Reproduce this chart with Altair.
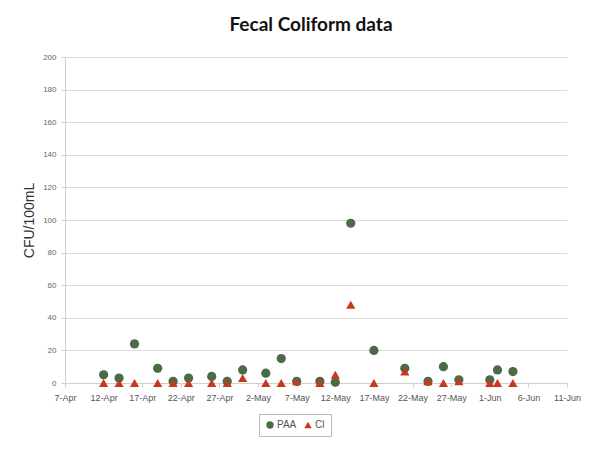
import altair as alt
import pandas as pd

dates = ["2013-04-12", "2013-04-14", "2013-04-16", "2013-04-19", "2013-04-21",
         "2013-04-23", "2013-04-26", "2013-04-28", "2013-04-30", "2013-05-03",
         "2013-05-05", "2013-05-07", "2013-05-10", "2013-05-12", "2013-05-14",
         "2013-05-17", "2013-05-21", "2013-05-24", "2013-05-26", "2013-05-28",
         "2013-06-01", "2013-06-02", "2013-06-04"]
paa = [5, 3, 24, 9, 1, 3, 4, 1, 8, 6, 15, 1, 1, 0.5, 98, 20, 9, 1, 10, 2, 2, 8, 7]
cl = [0, 0, 0, 0, 0, 0, 0, 0, 3, 0, 0, 1, 0, 5, 48, 0, 7, 1, 0, 1, 0, 0, 0]
series = ["PAA", "Cl"]
tick_dates = ["2013-04-07", "2013-04-12", "2013-04-17", "2013-04-22", "2013-04-27",
              "2013-05-02", "2013-05-07", "2013-05-12", "2013-05-17", "2013-05-22",
              "2013-05-27", "2013-06-01", "2013-06-06", "2013-06-11"]
y_ticks = list(range(0, 201, 20))

rows = []
for name, vals in zip(series, [paa, cl]):
    for d, v in zip(dates, vals):
        rows.append({"date": d + "T00:00:00", "value": v, "series": name})
df = pd.DataFrame(rows)

def dt(s):
    y, m, d = s.split("-")
    return alt.DateTime(year=int(y), month=int(m), date=int(d))

chart = alt.Chart(df).mark_point(filled=True, opacity=1).encode(
    x=alt.X("date:T",
            scale=alt.Scale(domain=[dt(tick_dates[0]), dt(tick_dates[-1])]),
            axis=alt.Axis(title=None, values=[dt(t) for t in tick_dates],
                          format="%-d-%b", grid=False, labelFontSize=9,
                          labelColor="#555", labelFont="Liberation Sans",
                          domainColor="#cfcfcf", tickColor="#cfcfcf", tickSize=4,
                          labelPadding=6, labelFlush=False)),
    y=alt.Y("value:Q",
            scale=alt.Scale(domain=[0, 200], nice=False),
            axis=alt.Axis(title="CFU/100mL", values=y_ticks, grid=True,
                          gridColor="#dcdcdc", domainColor="#cfcfcf",
                          tickColor="#cfcfcf", tickSize=4, labelFontSize=8,
                          labelColor="#666", labelFont="Liberation Sans",
                          labelPadding=5, titleFont="Liberation Sans",
                          titleFontSize=14, titleFontWeight="normal",
                          titleColor="#333", titleX=-32, titleY=163,
                          titleAngle=-90, titleAlign="center",
                          titleBaseline="alphabetic")),
    color=alt.Color("series:N",
                    scale=alt.Scale(domain=series, range=["#4b6b47", "#c8381f"]),
                    legend=alt.Legend(title=None, orient="none", legendX=194,
                                      legendY=357, direction="horizontal",
                                      strokeColor="#bbbbbb", padding=6,
                                      labelFontSize=10, labelColor="#555",
                                      labelFont="Liberation Sans",
                                      symbolSize=55, columnPadding=6,
                                      labelOffset=2)),
    shape=alt.Shape("series:N",
                    scale=alt.Scale(domain=series, range=["circle", "triangle-up"]),
                    legend=alt.Legend(title=None, orient="none", legendX=194,
                                      legendY=357, direction="horizontal")),
    size=alt.value(85),
).properties(
    width=502, height=326,
    autosize=alt.AutoSizeParams(type="none"),
    padding={"left": 57, "top": 49, "right": 14, "bottom": 64},
    title=alt.Title("Fecal Coliform data", font="Lato", fontSize=19,
                    fontWeight="bold", color="#111", offset=18, dx=-5),
    background="white",
).configure_view(stroke=None)

chart.save("out.html", embed_options={"renderer": "svg", "actions": False})
